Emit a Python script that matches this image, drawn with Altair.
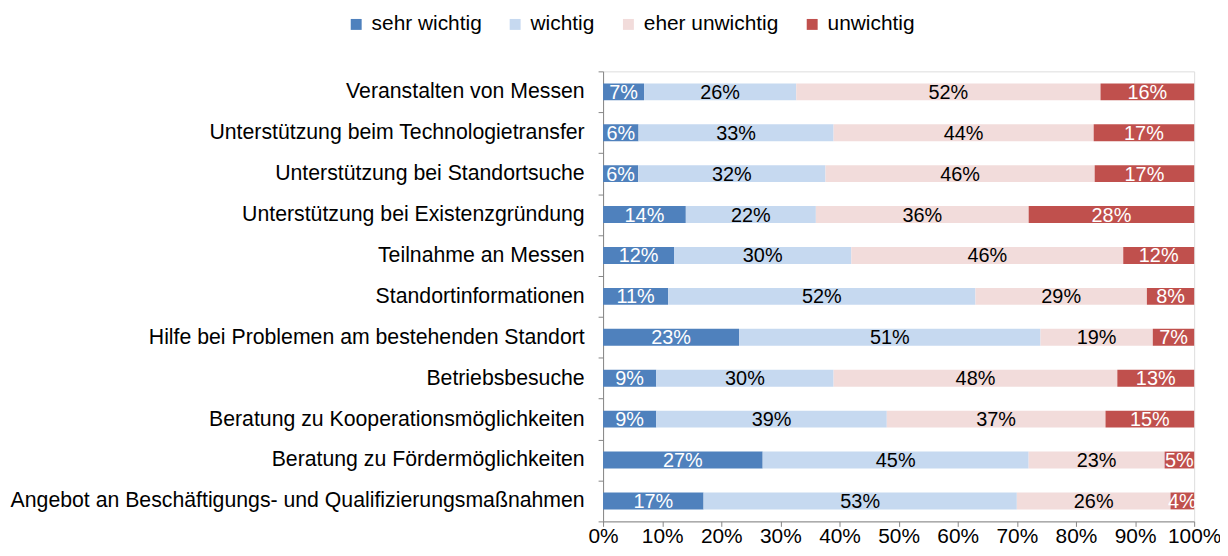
import altair as alt
import pandas as pd

categories = [
    "Veranstalten von Messen",
    "Unterstützung beim Technologietransfer",
    "Unterstützung bei Standortsuche",
    "Unterstützung bei Existenzgründung",
    "Teilnahme an Messen",
    "Standortinformationen",
    "Hilfe bei Problemen am bestehenden Standort",
    "Betriebsbesuche",
    "Beratung zu Kooperationsmöglichkeiten",
    "Beratung zu Fördermöglichkeiten",
    "Angebot an Beschäftigungs- und Qualifizierungsmaßnahmen",
]
series = ["sehr wichtig", "wichtig", "eher unwichtig", "unwichtig"]
sehr_wichtig = [7, 6, 6, 14, 12, 11, 23, 9, 9, 27, 17]
wichtig = [26, 33, 32, 22, 30, 52, 51, 30, 39, 45, 53]
eher_unwichtig = [52, 44, 46, 36, 46, 29, 19, 48, 37, 23, 26]
unwichtig = [16, 17, 17, 28, 12, 8, 7, 13, 15, 5, 4]
colors = ["#4F81BD", "#C6D9F0", "#F2DCDB", "#C0504D"]
text_colors = ["white", "black", "black", "white"]

rows = []
for s_i, (s, vals) in enumerate(zip(series, [sehr_wichtig, wichtig, eher_unwichtig, unwichtig])):
    for c, v in zip(categories, vals):
        rows.append({"cat": c, "series": s, "order": s_i, "value": v,
                     "label": f"{v}%", "tcolor": text_colors[s_i]})
df = pd.DataFrame(rows)

FONT = "Liberation Sans"

base = alt.Chart(df).transform_stack(
    stack="value", groupby=["cat"], as_=["x0", "x1"],
    sort=[alt.SortField("order")], offset="normalize"
).transform_calculate(mid="(datum.x0 + datum.x1) / 2")

yenc = alt.Y("cat:N", sort=categories, title=None,
             scale=alt.Scale(paddingInner=0, paddingOuter=0),
             axis=alt.Axis(tickBand="extent", labelFontSize=21.4, labelFont=FONT,
                           labelColor="black", labelPadding=14, tickSize=5,
                           domainColor="#868686", tickColor="#868686", labelLimit=800))

bars = base.mark_bar(size=17).encode(
    x=alt.X("x0:Q", title=None,
            scale=alt.Scale(domain=[0, 1], nice=False),
            axis=alt.Axis(format=".0%", values=[i / 10 for i in range(11)],
                          labelFontSize=21, labelFont=FONT, labelColor="black",
                          grid=False, tickSize=5, labelPadding=-1,
                          labelOverlap=False, labelFlush=False,
                          domainColor="#868686", tickColor="#868686")),
    x2="x1:Q",
    y=yenc,
    color=alt.Color("series:N", sort=series,
                    scale=alt.Scale(domain=series, range=colors),
                    legend=alt.Legend(title=None, orient="none", direction="horizontal",
                                      legendX=-259, legendY=-58,
                                      symbolType="square", symbolSize=121,
                                      symbolStrokeWidth=0,
                                      labelFontSize=21, labelFont=FONT, labelColor="black",
                                      columnPadding=23, labelOffset=5)),
    order=alt.Order("order:Q"),
)

texts = base.mark_text(fontSize=20, font=FONT, baseline="middle", dy=1).encode(
    x=alt.X("mid:Q"),
    y=alt.Y("cat:N", sort=categories),
    text="label:N",
    color=alt.Color("tcolor:N", scale=None),
)

chart = alt.layer(bars, texts).properties(
    width=1220, height=540,
    autosize=alt.AutoSizeParams(type="fit", contains="padding"),
    padding={"left": 2, "top": 51, "right": -1, "bottom": 0}
).configure_view(stroke=None).configure(background="white")

chart.save("out.html", embed_options={"renderer": "svg", "actions": False})
